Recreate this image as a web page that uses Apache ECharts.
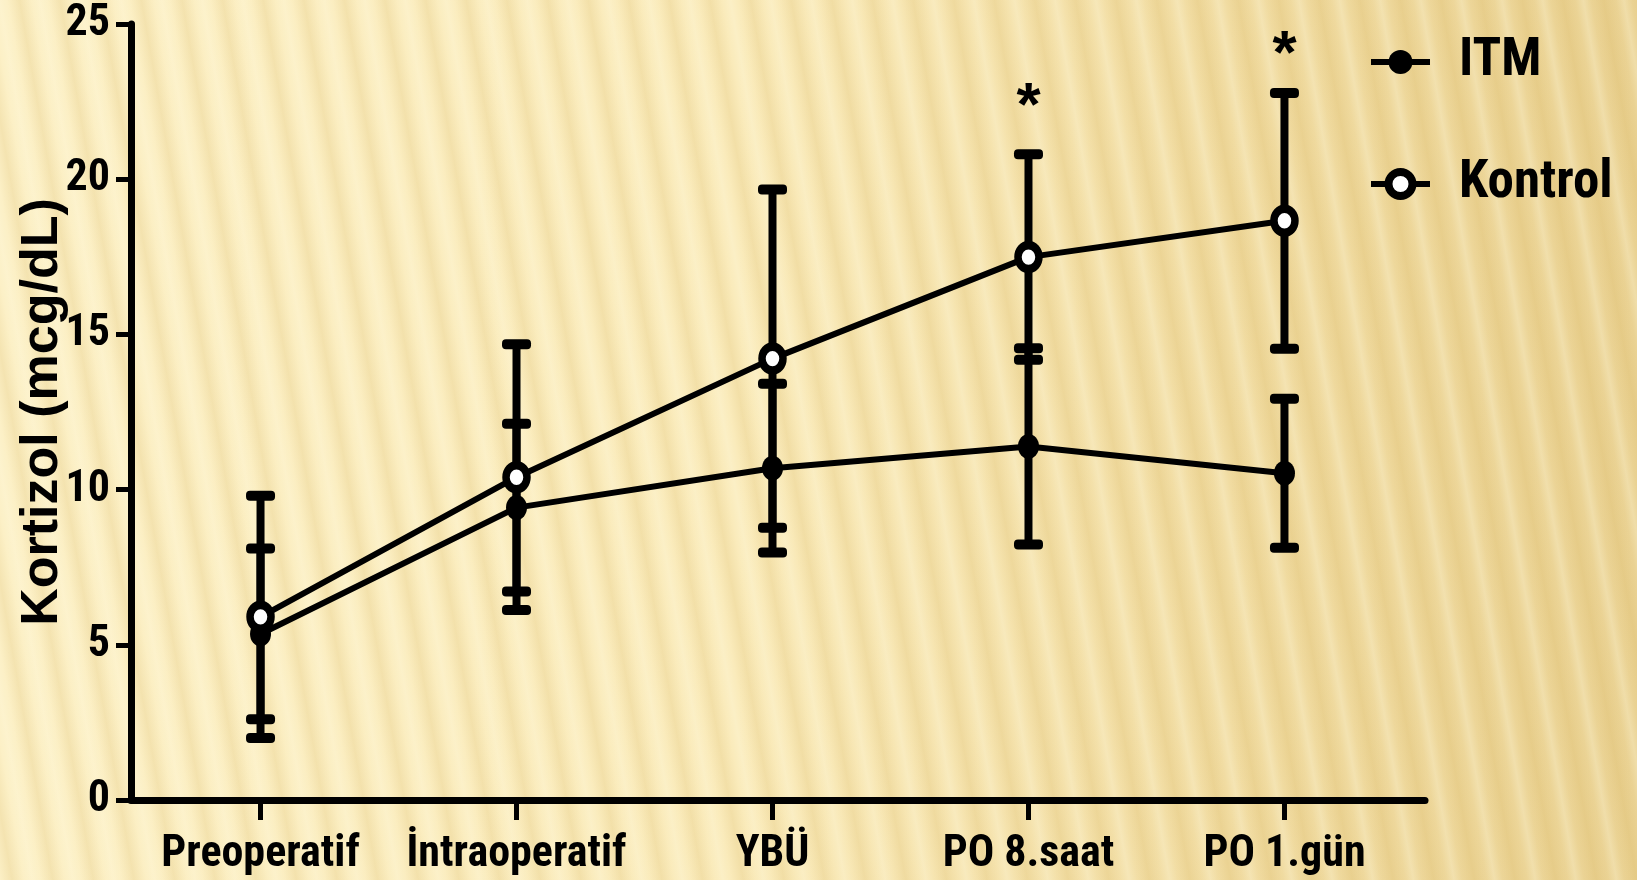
<!DOCTYPE html>
<html>
<head>
<meta charset="utf-8">
<script src="https://cdn.jsdelivr.net/npm/echarts@6/dist/echarts.min.js"></script>
<style>
html, body { margin: 0; padding: 0; width: 1637px; height: 880px; overflow: hidden; }
body {
  background:
    repeating-linear-gradient(80deg, rgba(205,165,70,0) 0px, rgba(205,165,70,0.17) 12px, rgba(205,165,70,0) 24px, rgba(255,250,225,0.28) 32px, rgba(205,165,70,0) 40px),
    linear-gradient(to right, #fcf0c6 0%, #faebbb 45%, #f1dca2 75%, #ead293 100%);
}
#chart { width: 1637px; height: 880px; }
</style>
</head>
<body>
<div id="chart"></div>
<script>
// ---- data ----
const categories = ['Preoperatif', 'İntraoperatif', 'YBÜ', 'PO 8.saat', 'PO 1.gün'];
const itmMean = [5.35, 9.42, 10.69, 11.39, 10.53];
const itmSD = [2.75, 2.70, 2.72, 3.16, 2.40];
const kontrolMean = [5.90, 10.40, 14.22, 17.49, 18.66];
const kontrolSD = [3.90, 4.28, 5.45, 3.31, 4.12];
const significance = ['', '', '', '*', '*'];
const starLevel = [null, null, null, 22.31, 23.96];
const yTicks = [0, 5, 10, 15, 20, 25];
const seriesNames = ['ITM', 'Kontrol'];
const yAxisTitle = 'Kortizol (mcg/dL)';

const narrow = "'Roboto Condensed', 'Liberation Sans', sans-serif";
const wide = "'Liberation Sans', Arial, sans-serif";

function errorBars(name, mean, sd) {
  return {
    type: 'custom',
    name: name + ' SD',
    z: 2,
    silent: true,
    data: mean.map((m, i) => [i, m - sd[i], m + sd[i]]),
    encode: { x: 0, y: [1, 2] },
    renderItem: function (params, api) {
      const x = api.value(0);
      const lo = api.coord([x, api.value(1)]);
      const hi = api.coord([x, api.value(2)]);
      const cw = 29, ch = 10;
      return {
        type: 'group',
        children: [
          { type: 'line', shape: { x1: lo[0], y1: lo[1], x2: hi[0], y2: hi[1] }, style: { stroke: '#000', lineWidth: 8 } },
          { type: 'rect', shape: { x: lo[0] - cw / 2, y: lo[1] - ch / 2, width: cw, height: ch, r: 4 }, style: { fill: '#000' } },
          { type: 'rect', shape: { x: hi[0] - cw / 2, y: hi[1] - ch / 2, width: cw, height: ch, r: 4 }, style: { fill: '#000' } }
        ]
      };
    }
  };
}

const starData = [];
significance.forEach((s, i) => { if (s) starData.push([i, starLevel[i]]); });

const chart = echarts.init(document.getElementById('chart'), null, { renderer: 'canvas' });
chart.setOption({
  animation: false,
  backgroundColor: 'transparent',
  grid: { left: 131, top: 24, right: 212, bottom: 80, containLabel: false, outerBoundsMode: 'none' },
  legend: {
    left: 1368,
    top: 32,
    padding: 0,
    orient: 'vertical',
    itemWidth: 59,
    itemHeight: 30,
    itemGap: 62,
    lineStyle: { width: 6, color: '#000' },
    data: [
      { name: seriesNames[0], itemStyle: { color: '#000', borderWidth: 0 } },
      { name: seriesNames[1], itemStyle: { color: '#fff', borderColor: '#000', borderWidth: 8 } }
    ],
    textStyle: { fontFamily: narrow, fontWeight: 'bold', fontSize: 53, lineHeight: 60, color: '#000', padding: [0, 0, 0, 24] }
  },
  xAxis: {
    type: 'value',
    min: -0.506,
    max: 4.549,
    splitLine: { show: false },
    axisLine: { show: true, onZero: false, lineStyle: { color: '#000', width: 7 } },
    axisTick: { show: true, customValues: [0, 1, 2, 3, 4], length: 20, lineStyle: { color: '#000', width: 5 } },
    axisLabel: {
      customValues: [0, 1, 2, 3, 4],
      formatter: v => categories[Math.round(v)],
      margin: 33,
      fontFamily: narrow, fontWeight: 'bold', fontSize: 44, color: '#000'
    }
  },
  yAxis: {
    type: 'value',
    min: yTicks[0],
    max: yTicks[yTicks.length - 1],
    interval: 5,
    name: yAxisTitle,
    nameLocation: 'middle',
    nameRotate: 90,
    nameGap: 62,
    nameMoveOverlap: false,
    nameTextStyle: { fontFamily: wide, fontWeight: 'bold', fontSize: 52, color: '#000' },
    splitLine: { show: false },
    axisLine: { show: true, onZero: false, lineStyle: { color: '#000', width: 7 } },
    axisTick: { show: true, length: 15, lineStyle: { color: '#000', width: 5 } },
    axisLabel: { margin: 21, fontFamily: narrow, fontWeight: 'bold', fontSize: 44, color: '#000' }
  },
  series: [
    errorBars(seriesNames[0], itmMean, itmSD),
    errorBars(seriesNames[1], kontrolMean, kontrolSD),
    {
      type: 'line', name: seriesNames[0], z: 3,
      data: itmMean.map((v, i) => [i, v]),
      symbol: 'circle', symbolSize: [21, 25],
      lineStyle: { color: '#000', width: 6 },
      itemStyle: { color: '#000' }
    },
    {
      type: 'line', name: seriesNames[1], z: 4,
      data: kontrolMean.map((v, i) => [i, v]),
      symbol: 'circle', symbolSize: [21, 24],
      lineStyle: { color: '#000', width: 6 },
      itemStyle: { color: '#fff', borderColor: '#000', borderWidth: 8 }
    },
    {
      type: 'custom', name: 'sig', z: 5, silent: true,
      data: starData,
      encode: { x: 0, y: 1 },
      renderItem: function (params, api) {
        const p = api.coord([api.value(0), api.value(1)]);
        return {
          type: 'text', x: p[0], y: p[1],
          style: { text: significance[api.value(0)], fontFamily: wide, fontWeight: 'bold', fontSize: 62, fill: '#000', align: 'center', verticalAlign: 'middle' }
        };
      }
    }
  ]
});
</script>
</body>
</html>
